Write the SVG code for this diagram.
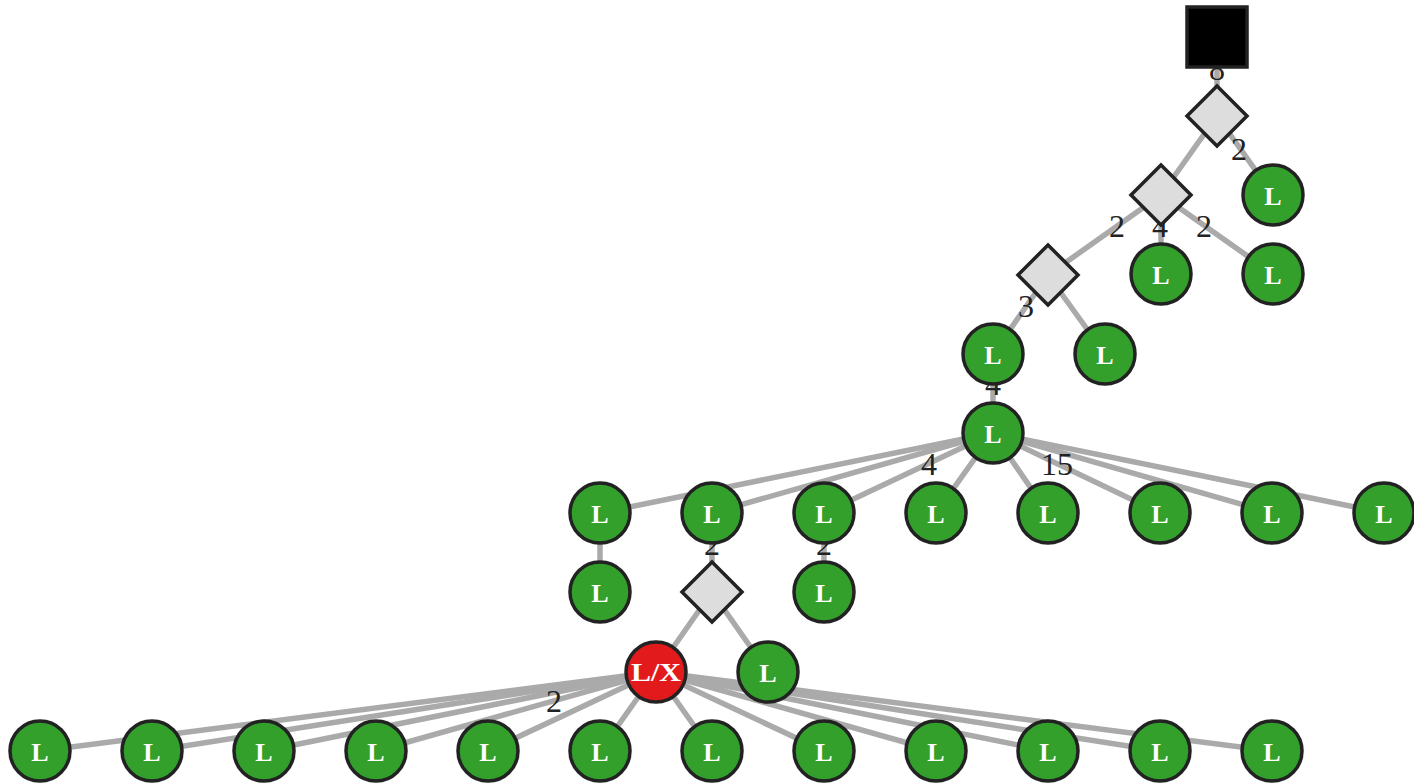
<svg xmlns="http://www.w3.org/2000/svg" width="1414" height="783" viewBox="0 0 1414 783">
<defs>
<style>
.e{stroke:#aaaaaa;stroke-width:5.5;fill:none}
.lb{font-family:"Liberation Serif",serif;font-size:32px;fill:#222;text-anchor:middle}
.c{stroke:#222;stroke-width:3.5;fill:#33a02c}
.r{stroke:#222;stroke-width:3.5;fill:#e31a1c}
.d{stroke:#222;stroke-width:3.5;fill:#dddddd}
.s{stroke:#222;stroke-width:3.5;fill:#000}
.t{font-family:"Liberation Serif",serif;font-weight:bold;font-size:26px;fill:#fff;text-anchor:middle}
</style>
</defs>
<rect width="1414" height="783" fill="#fff"/>
<g id="connectors">
<line class="e" x1="1217" y1="37" x2="1217" y2="116"/>
<line class="e" x1="1217" y1="116" x2="1161" y2="195"/>
<line class="e" x1="1217" y1="116" x2="1273" y2="195"/>
<line class="e" x1="1161" y1="195" x2="1048" y2="275"/>
<line class="e" x1="1161" y1="195" x2="1161" y2="274"/>
<line class="e" x1="1161" y1="195" x2="1273" y2="274"/>
<line class="e" x1="1048" y1="275" x2="993" y2="354"/>
<line class="e" x1="1048" y1="275" x2="1105" y2="354"/>
<line class="e" x1="993" y1="354" x2="993" y2="433"/>
<line class="e" x1="993" y1="433" x2="600" y2="513"/>
<line class="e" x1="993" y1="433" x2="712" y2="513"/>
<line class="e" x1="993" y1="433" x2="824" y2="513"/>
<line class="e" x1="993" y1="433" x2="936" y2="513"/>
<line class="e" x1="993" y1="433" x2="1048" y2="513"/>
<line class="e" x1="993" y1="433" x2="1160" y2="513"/>
<line class="e" x1="993" y1="433" x2="1272" y2="513"/>
<line class="e" x1="993" y1="433" x2="1384" y2="513"/>
<line class="e" x1="600" y1="513" x2="600" y2="592"/>
<line class="e" x1="712" y1="513" x2="712" y2="592"/>
<line class="e" x1="824" y1="513" x2="824" y2="592"/>
<line class="e" x1="712" y1="592" x2="656" y2="672"/>
<line class="e" x1="712" y1="592" x2="768" y2="672"/>
<line class="e" x1="656" y1="672" x2="40" y2="751"/>
<line class="e" x1="656" y1="672" x2="152" y2="751"/>
<line class="e" x1="656" y1="672" x2="264" y2="751"/>
<line class="e" x1="656" y1="672" x2="376" y2="751"/>
<line class="e" x1="656" y1="672" x2="488" y2="751"/>
<line class="e" x1="656" y1="672" x2="600" y2="751"/>
<line class="e" x1="656" y1="672" x2="712" y2="751"/>
<line class="e" x1="656" y1="672" x2="824" y2="751"/>
<line class="e" x1="656" y1="672" x2="936" y2="751"/>
<line class="e" x1="656" y1="672" x2="1048" y2="751"/>
<line class="e" x1="656" y1="672" x2="1160" y2="751"/>
<line class="e" x1="656" y1="672" x2="1272" y2="751"/>
</g>
<g id="edge-labels">
<text class="lb" x="1217" y="80">8</text>
<text class="lb" x="1239" y="160">2</text>
<text class="lb" x="1117" y="237">2</text>
<text class="lb" x="1160" y="237">4</text>
<text class="lb" x="1204" y="237">2</text>
<text class="lb" x="1026" y="317">3</text>
<text class="lb" x="993" y="395">4</text>
<text class="lb" x="929" y="475">4</text>
<text class="lb" x="1057" y="475">15</text>
<text class="lb" x="712" y="555">2</text>
<text class="lb" x="824" y="555">2</text>
<text class="lb" x="554" y="712">2</text>
</g>
<g id="root"><rect class="s" x="1187" y="7" width="60" height="60"/></g>
<g id="d1"><polygon class="d" points="1217,86 1247,116 1217,146 1187,116"/></g>
<g id="d2"><polygon class="d" points="1161,165 1191,195 1161,225 1131,195"/></g>
<g id="d3"><polygon class="d" points="1048,245 1078,275 1048,305 1018,275"/></g>
<g id="d4"><polygon class="d" points="712,562 742,592 712,622 682,592"/></g>
<g id="n1"><circle class="c" cx="1273" cy="195" r="30"/><text class="t" x="1273" y="205">L</text></g>
<g id="n2"><circle class="c" cx="1161" cy="274" r="30"/><text class="t" x="1161" y="284">L</text></g>
<g id="n3"><circle class="c" cx="1273" cy="274" r="30"/><text class="t" x="1273" y="284">L</text></g>
<g id="n4"><circle class="c" cx="993" cy="354" r="30"/><text class="t" x="993" y="364">L</text></g>
<g id="n5"><circle class="c" cx="1105" cy="354" r="30"/><text class="t" x="1105" y="364">L</text></g>
<g id="n6"><circle class="c" cx="993" cy="433" r="30"/><text class="t" x="993" y="443">L</text></g>
<g id="n7"><circle class="c" cx="600" cy="513" r="30"/><text class="t" x="600" y="523">L</text></g>
<g id="n8"><circle class="c" cx="712" cy="513" r="30"/><text class="t" x="712" y="523">L</text></g>
<g id="n9"><circle class="c" cx="824" cy="513" r="30"/><text class="t" x="824" y="523">L</text></g>
<g id="n10"><circle class="c" cx="936" cy="513" r="30"/><text class="t" x="936" y="523">L</text></g>
<g id="n11"><circle class="c" cx="1048" cy="513" r="30"/><text class="t" x="1048" y="523">L</text></g>
<g id="n12"><circle class="c" cx="1160" cy="513" r="30"/><text class="t" x="1160" y="523">L</text></g>
<g id="n13"><circle class="c" cx="1272" cy="513" r="30"/><text class="t" x="1272" y="523">L</text></g>
<g id="n14"><circle class="c" cx="1384" cy="513" r="30"/><text class="t" x="1384" y="523">L</text></g>
<g id="n15"><circle class="c" cx="600" cy="592" r="30"/><text class="t" x="600" y="602">L</text></g>
<g id="n16"><circle class="c" cx="824" cy="592" r="30"/><text class="t" x="824" y="602">L</text></g>
<g id="lx"><circle class="r" cx="656" cy="672" r="30"/><text class="t" x="656" y="681" font-size="27" textLength="50" lengthAdjust="spacingAndGlyphs">L/X</text></g>
<g id="n17"><circle class="c" cx="768" cy="672" r="30"/><text class="t" x="768" y="682">L</text></g>
<g id="n18"><circle class="c" cx="40" cy="751" r="30"/><text class="t" x="40" y="761">L</text></g>
<g id="n19"><circle class="c" cx="152" cy="751" r="30"/><text class="t" x="152" y="761">L</text></g>
<g id="n20"><circle class="c" cx="264" cy="751" r="30"/><text class="t" x="264" y="761">L</text></g>
<g id="n21"><circle class="c" cx="376" cy="751" r="30"/><text class="t" x="376" y="761">L</text></g>
<g id="n22"><circle class="c" cx="488" cy="751" r="30"/><text class="t" x="488" y="761">L</text></g>
<g id="n23"><circle class="c" cx="600" cy="751" r="30"/><text class="t" x="600" y="761">L</text></g>
<g id="n24"><circle class="c" cx="712" cy="751" r="30"/><text class="t" x="712" y="761">L</text></g>
<g id="n25"><circle class="c" cx="824" cy="751" r="30"/><text class="t" x="824" y="761">L</text></g>
<g id="n26"><circle class="c" cx="936" cy="751" r="30"/><text class="t" x="936" y="761">L</text></g>
<g id="n27"><circle class="c" cx="1048" cy="751" r="30"/><text class="t" x="1048" y="761">L</text></g>
<g id="n28"><circle class="c" cx="1160" cy="751" r="30"/><text class="t" x="1160" y="761">L</text></g>
<g id="n29"><circle class="c" cx="1272" cy="751" r="30"/><text class="t" x="1272" y="761">L</text></g>
</svg>
